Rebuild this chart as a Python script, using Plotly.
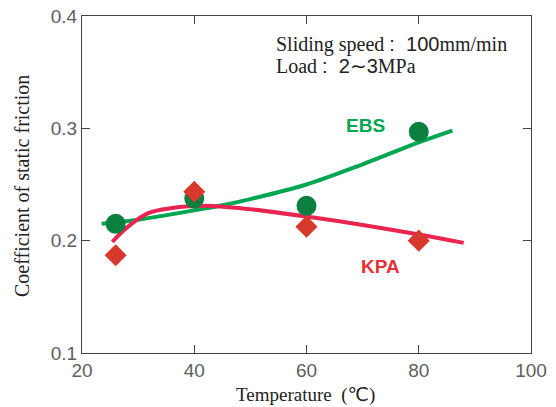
import plotly.graph_objects as go

# measured points
temps = [26, 40, 60, 80]
ebs_vals = [0.215, 0.2375, 0.231, 0.297]
kpa_vals = [0.187, 0.2435, 0.2125, 0.200]

# fitted curves
ebs_fit_x = [23.5, 30, 40, 45.5, 50, 60, 70, 80, 86]
ebs_fit_y = [0.215, 0.2187, 0.227, 0.232, 0.237, 0.250, 0.268, 0.2875, 0.298]
kpa_fit_x = [25.4, 28.2, 31.8, 36, 42, 45.5, 50, 60, 70, 80, 88]
kpa_fit_y = [0.199, 0.2125, 0.2245, 0.229, 0.231, 0.230, 0.228, 0.2215, 0.214, 0.2055, 0.198]

x_ticks = [20, 40, 60, 80, 100]
y_ticks = [0.1, 0.2, 0.3, 0.4]

GREEN_LINE = "#00a651"
GREEN_MARK = "#0a7f3f"
RED_LINE = "#ea2451"
RED_MARK = "#d7392c"

SERIF = "Liberation Serif, Times New Roman, serif"
DJV = "font-family:'DejaVu Sans'"
SANS = "font-family:'Liberation Sans'"

fig = go.Figure()
fig.add_trace(go.Scatter(x=ebs_fit_x, y=ebs_fit_y, mode="lines",
                         line=dict(color=GREEN_LINE, width=4, shape="spline"),
                         showlegend=False, hoverinfo="skip"))
fig.add_trace(go.Scatter(x=kpa_fit_x, y=kpa_fit_y, mode="lines",
                         line=dict(color=RED_LINE, width=4, shape="spline"),
                         showlegend=False, hoverinfo="skip"))
fig.add_trace(go.Scatter(x=temps, y=ebs_vals, mode="markers", name="EBS",
                         marker=dict(symbol="circle", size=20, color=GREEN_MARK),
                         showlegend=False))
fig.add_trace(go.Scatter(x=temps, y=kpa_vals, mode="markers", name="KPA",
                         marker=dict(symbol="diamond", size=17, color=RED_MARK),
                         showlegend=False))

fig.add_annotation(x=70.5, y=0.3025, text="<b>EBS</b>", showarrow=False,
                   font=dict(family="Liberation Sans, Arial", size=19, color=GREEN_LINE))
fig.add_annotation(x=73.1, y=0.177, text="<b>KPA</b>", showarrow=False,
                   font=dict(family="Liberation Sans, Arial", size=19, color="#e83038"))

line1 = (f"Sliding speed <span style=\"{SANS}\">:  100</span>mm/min")
line2 = (f"Load <span style=\"{SANS}\">:  2</span><span style=\"{DJV}\">∼</span>"
         f"<span style=\"{SANS}\">3</span>MPa")
fig.add_annotation(xref="paper", yref="paper", x=(274-82)/449, y=(353-45)/337,
                   xanchor="left", yanchor="middle", showarrow=False, align="left",
                   text=line1, font=dict(family=SERIF, size=20, color="#222"))
fig.add_annotation(xref="paper", yref="paper", x=(274-82)/449, y=(353-66)/337,
                   xanchor="left", yanchor="middle", showarrow=False, align="left",
                   text=line2, font=dict(family=SERIF, size=20, color="#222"))

# axis titles placed as paper annotations
fig.add_annotation(xref="paper", yref="paper", x=(305-82)/449, y=(353-394)/337,
                   xanchor="center", yanchor="middle", showarrow=False,
                   text=f"Temperature  (<span style=\"{DJV}\">℃</span>)",
                   font=dict(family=SERIF, size=19, color="#222"))
fig.add_annotation(xref="paper", yref="paper", x=(22-82)/449, y=(353-186)/337,
                   xanchor="center", yanchor="middle", showarrow=False, textangle=-90,
                   text="Coefficient of static friction",
                   font=dict(family=SERIF, size=20, color="#222"))

axis_common = dict(showline=True, linecolor="#444", linewidth=1, mirror="ticks",
                   ticks="inside", ticklen=8, tickcolor="#444", showgrid=False,
                   zeroline=False, automargin=False,
                   tickfont=dict(family="Liberation Sans, Arial", size=19, color="#606060"))

fig.update_xaxes(range=[20, 100], tickvals=x_ticks, ticktext=[str(v) for v in x_ticks],
                 **axis_common)
fig.update_yaxes(range=[0.1, 0.4], tickvals=y_ticks, ticktext=[f"{v:.1f}" for v in y_ticks],
                 **axis_common)

fig.update_layout(width=556, height=407, margin=dict(l=82, r=25, t=16, b=54),
                  plot_bgcolor="white", paper_bgcolor="white")

fig.write_html("out.html", config={"displayModeBar": False},
               post_script="document.body.style.margin='0';document.body.style.overflow='hidden';")
